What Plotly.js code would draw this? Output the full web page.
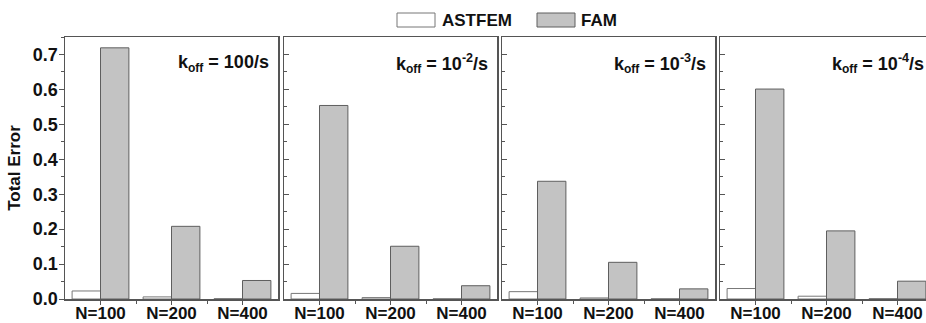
<!DOCTYPE html>
<html>
<head>
<meta charset="utf-8">
<script src="https://cdn.plot.ly/plotly-3.0.1.min.js"></script>
<style>html,body{margin:0;padding:0;overflow:hidden;background:#fff;}</style>
</head>
<body>
<div id="chart"></div>
<script>
// ---- data ----
const categories = ["N=100", "N=200", "N=400"];
const panelLabels = [
  "k<sub><span style=\"font-size:12px\">off</span></sub> = 100/s",
  "k<sub><span style=\"font-size:12px\">off</span></sub> = 10<sup>-2</sup>/s",
  "k<sub><span style=\"font-size:12px\">off</span></sub> = 10<sup>-3</sup>/s",
  "k<sub><span style=\"font-size:12px\">off</span></sub> = 10<sup>-4</sup>/s"
];
const astfem1 = [0.023, 0.006, 0.001];
const fam1    = [0.719, 0.208, 0.053];
const astfem2 = [0.016, 0.004, 0.0006];
const fam2    = [0.554, 0.151, 0.038];
const astfem3 = [0.021, 0.003, 0.0006];
const fam3    = [0.337, 0.105, 0.029];
const astfem4 = [0.030, 0.008, 0.001];
const fam4    = [0.601, 0.195, 0.051];
const seriesNames = ["ASTFEM", "FAM"];

const astfemAll = [astfem1, astfem2, astfem3, astfem4];
const famAll = [fam1, fam2, fam3, fam4];

// ---- layout helpers ----
const W = 934, H = 323;
const FONT = "Liberation Sans, Arial, sans-serif";
const frame = "#555555";
const panelsPx = [[65, 278], [284, 497], [502, 715], [720, 933]];
const plotTop = 37, plotBot = 299;
const py = p => (plotBot - p) / (plotBot - plotTop);

const traces = [];
for (let i = 0; i < 4; i++) {
  const xa = i === 0 ? "x" : "x" + (i + 1);
  const ya = i === 0 ? "y" : "y" + (i + 1);
  traces.push({
    type: "bar", name: seriesNames[0], x: categories, y: astfemAll[i],
    xaxis: xa, yaxis: ya, showlegend: false,
    marker: {color: "#ffffff", line: {color: "#777777", width: 1}}
  });
  traces.push({
    type: "bar", name: seriesNames[1], x: categories, y: famAll[i],
    xaxis: xa, yaxis: ya, showlegend: false,
    marker: {color: "#c3c3c3", line: {color: "#5e5e5e", width: 1}}
  });
}

const layout = {
  width: W, height: H,
  margin: {l: 0, r: 0, t: plotTop, b: H - plotBot},
  paper_bgcolor: "#fff", plot_bgcolor: "#fff",
  barmode: "group", bargap: 0.2, bargroupgap: 0,
  font: {family: FONT, color: "#111"},
  showlegend: false,
  annotations: [], shapes: []
};

for (let i = 0; i < 4; i++) {
  const xk = i === 0 ? "xaxis" : "xaxis" + (i + 1);
  const yk = i === 0 ? "yaxis" : "yaxis" + (i + 1);
  const yref = i === 0 ? "y" : "y" + (i + 1);
  const xref = i === 0 ? "x" : "x" + (i + 1);
  layout[xk] = {
    domain: [panelsPx[i][0] / W, panelsPx[i][1] / W],
    anchor: yref, type: "category", range: [-0.5, 2.5],
    showline: true, mirror: true, linecolor: frame, linewidth: 1.5,
    showgrid: false, zeroline: false,
    ticks: "outside", ticklen: 4, tickcolor: frame, tickwidth: 1,
    minor: {tickmode: "array", tickvals: [0.5, 1.5], ticks: "outside", ticklen: 3, tickcolor: frame},
    tickfont: {family: FONT, size: 17, color: "#111", weight: "bold"},
    ticklabelstandoff: -6,
    fixedrange: true
  };
  layout[yk] = {
    domain: [0, 1], anchor: xref, range: [0, 0.75],
    showline: true, mirror: true, linecolor: frame, linewidth: 1.5,
    showgrid: false, zeroline: false,
    dtick: 0.1, tick0: 0, tickformat: ".1f",
    ticks: i === 0 ? "outside" : "inside", ticklen: 5, tickcolor: frame, tickwidth: 1,
    minor: {dtick: 0.05, ticks: i === 0 ? "outside" : "inside", ticklen: 3, tickcolor: frame},
    showticklabels: i === 0,
    tickfont: {family: FONT, size: 18, color: "#111", weight: "bold"},
    ticklabelstandoff: -3,
    fixedrange: true
  };
  layout.annotations.push({
    text: panelLabels[i], xref: xref + " domain", yref: yref + " domain",
    x: 0.965, y: 0.9, xanchor: "right", yanchor: "middle", showarrow: false,
    font: {family: FONT, size: 18, color: "#111", weight: "bold"}
  });
}
layout.yaxis.title = {text: "Total Error", font: {family: FONT, size: 17, color: "#111", weight: "bold"}, standoff: 8};

// custom legend (large swatches as in the original)
const leg = [
  {name: seriesNames[0], x0: 397, x1: 435, fill: "#ffffff", line: "#777777", tx: 440},
  {name: seriesNames[1], x0: 537, x1: 575, fill: "#c3c3c3", line: "#5e5e5e", tx: 579}
];
leg.forEach(l => {
  layout.shapes.push({type: "rect", xref: "paper", yref: "paper",
    x0: l.x0 / W, x1: l.x1 / W, y0: py(27), y1: py(13),
    fillcolor: l.fill, line: {color: l.line, width: 1}});
  layout.annotations.push({text: l.name, xref: "paper", yref: "paper",
    x: l.tx / W, y: py(20.5), xanchor: "left", yanchor: "middle", showarrow: false,
    font: {family: FONT, size: 17, color: "#111", weight: "bold"}});
});

Plotly.newPlot("chart", traces, layout, {staticPlot: true, displayModeBar: false});
</script>
</body>
</html>
